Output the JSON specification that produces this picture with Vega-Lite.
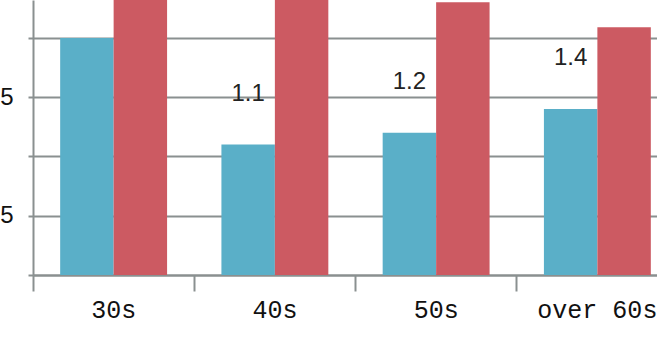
{
  "$schema": "https://vega.github.io/schema/vega-lite/v6.json",
  "autosize": {"type": "none"},
  "width": 645,
  "height": 275,
  "padding": {"left": 33, "top": 0, "right": 0, "bottom": 62},
  "background": "white",
  "config": {"view": {"stroke": null}},
  "data": {
    "values": [
      {"age": "30s", "series": "a", "value": 2.0},
      {"age": "30s", "series": "b", "value": 2.6},
      {"age": "40s", "series": "a", "value": 1.1},
      {"age": "40s", "series": "b", "value": 2.5},
      {"age": "50s", "series": "a", "value": 1.2},
      {"age": "50s", "series": "b", "value": 2.3},
      {"age": "over 60s", "series": "a", "value": 1.4},
      {"age": "over 60s", "series": "b", "value": 2.09}
    ]
  },
  "encoding": {
    "x": {
      "field": "age",
      "type": "nominal",
      "sort": ["30s", "40s", "50s", "over 60s"],
      "scale": {"paddingInner": 0.337, "paddingOuter": 0.1685},
      "axis": {
        "title": null,
        "labelAngle": 0,
        "labelFont": "Liberation Mono",
        "labelFontSize": 25,
        "labelColor": "#111111",
        "domainColor": "#8a9090",
        "domainWidth": 2,
        "tickColor": "#8a9090",
        "tickWidth": 2,
        "tickSize": 16,
        "bandPosition": -0.254,
        "labelPadding": 6,
        "grid": false
      }
    },
    "y": {
      "field": "value",
      "type": "quantitative",
      "scale": {"domain": [0, 2.32], "nice": false},
      "axis": {
        "title": null,
        "values": [0, 0.5, 1, 1.5, 2],
        "format": ".1f",
        "labelExpr": "datum.value % 1 ? datum.label : ''",
        "labelFont": "Liberation Sans",
        "labelFontSize": 24,
        "labelColor": "#111111",
        "tickSize": 5,
        "tickColor": "#8a9090",
        "tickWidth": 2,
        "labelPadding": 15,
        "domainColor": "#8a9090",
        "domainWidth": 2,
        "gridColor": "#8a9090",
        "gridWidth": 2,
        "gridOpacity": 1
      }
    }
  },
  "layer": [
    {
      "mark": {"type": "bar", "clip": true},
      "encoding": {
        "xOffset": {"field": "series"},
        "color": {
          "field": "series",
          "scale": {"domain": ["a", "b"], "range": ["#5aafc8", "#cc5a62"]},
          "legend": null
        }
      }
    },
    {
      "transform": [{"filter": "datum.series == 'a'"}],
      "mark": {"type": "text", "dy": -51, "baseline": "middle", "font": "Liberation Sans", "fontSize": 24, "color": "#222222"},
      "encoding": {
        "xOffset": {"field": "series"},
        "text": {"field": "value", "type": "quantitative", "format": ".1f"}
      }
    }
  ]
}
